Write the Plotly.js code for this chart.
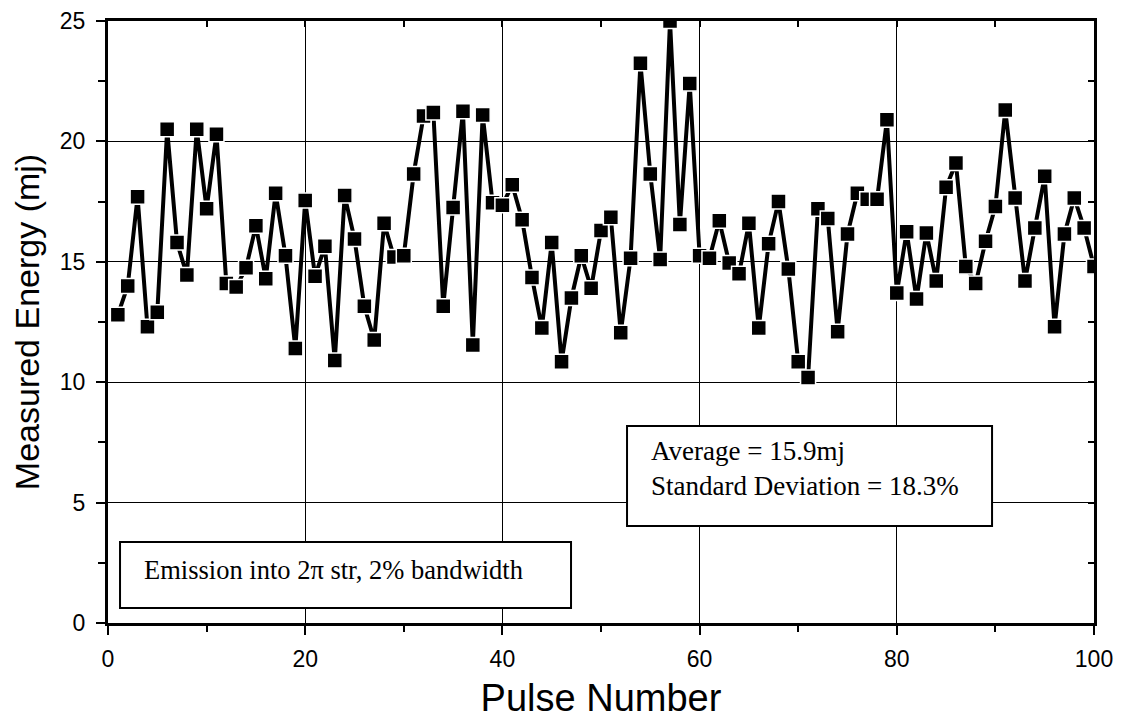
<!DOCTYPE html>
<html>
<head>
<meta charset="utf-8">
<script src="https://cdn.plot.ly/plotly-3.0.1.min.js"></script>
<style>html,body{margin:0;padding:0;background:#fff;}#chart{width:1125px;height:726px;}</style>
</head>
<body>
<div id="chart"></div>
<script>
// Pulse numbers 1..100
const pulseNumber = [1,2,3,4,5,6,7,8,9,10,11,12,13,14,15,16,17,18,19,20,
  21,22,23,24,25,26,27,28,29,30,31,32,33,34,35,36,37,38,39,40,
  41,42,43,44,45,46,47,48,49,50,51,52,53,54,55,56,57,58,59,60,
  61,62,63,64,65,66,67,68,69,70,71,72,73,74,75,76,77,78,79,80,
  81,82,83,84,85,86,87,88,89,90,91,92,93,94,95,96,97,98,99,100];
// Measured energy (mj)
const measuredEnergy = [
  12.8, 14.0, 17.7, 12.3, 12.9, 20.5, 15.8, 14.45, 20.5, 17.2,
  20.3, 14.1, 13.95, 14.75, 16.5, 14.3, 17.85, 15.25, 11.4, 17.55,
  14.4, 15.65, 10.9, 17.75, 15.95, 13.15, 11.75, 16.6, 15.2, 15.25,
  18.65, 21.05, 21.2, 13.15, 17.25, 21.25, 11.55, 21.1, 17.45, 17.35,
  18.2, 16.75, 14.35, 12.25, 15.8, 10.85, 13.5, 15.25, 13.9, 16.3,
  16.85, 12.05, 15.15, 23.25, 18.65, 15.1, 25.0, 16.55, 22.4, 15.25,
  15.15, 16.7, 14.95, 14.5, 16.6, 12.25, 15.75, 17.5, 14.7, 10.85,
  10.2, 17.2, 16.8, 12.1, 16.15, 17.85, 17.6, 17.6, 20.9, 13.7,
  16.25, 13.45, 16.2, 14.2, 18.1, 19.1, 14.8, 14.1, 15.85, 17.3,
  21.3, 17.65, 14.2, 16.4, 18.55, 12.3, 16.15, 17.65, 16.4, 14.8];

const xTitle = "Pulse Number";
const yTitle = "Measured Energy (mj)";
const statsLines = ["Average = 15.9mj", "Standard Deviation = 18.3%"];
const noteText = "Emission into 2\u03c0 str, 2% bandwidth";

const sans = "Liberation Sans, Arial, sans-serif";
const serif = "Liberation Serif, Times New Roman, serif";

const traces = [
  {
    x: pulseNumber, y: measuredEnergy, type: "scatter", mode: "lines+markers",
    line: {color: "#000", width: 4},
    marker: {symbol: "square", size: 15, color: "#000", line: {color: "#fff", width: 1.5}},
    cliponaxis: true, showlegend: false, hoverinfo: "x+y"
  },
  { x: [], y: [], xaxis: "x2", yaxis: "y2", type: "scatter", showlegend: false }
];

const layout = {
  width: 1125, height: 726,
  margin: {l: 108, r: 31, t: 21, b: 103},
  paper_bgcolor: "#fff", plot_bgcolor: "#fff",
  showlegend: false,
  xaxis: {
    range: [0, 100], dtick: 20, tick0: 0,
    showgrid: true, gridcolor: "#000", gridwidth: 1,
    zeroline: false, showline: true, linecolor: "#000", linewidth: 3, mirror: true,
    ticks: "outside", ticklen: 9, tickwidth: 2, tickcolor: "#000",
    minor: {dtick: 10, ticks: "outside", ticklen: 6, tickwidth: 2, tickcolor: "#000", showgrid: false},
    tickfont: {family: sans, size: 23, color: "#000"},
    ticklabelstandoff: 4,
    title: {text: xTitle, font: {family: sans, size: 38, color: "#000"}, standoff: 14}
  },
  yaxis: {
    range: [0, 25], dtick: 5, tick0: 0,
    showgrid: true, gridcolor: "#000", gridwidth: 1,
    zeroline: false, showline: true, linecolor: "#000", linewidth: 3, mirror: true,
    ticks: "outside", ticklen: 9, tickwidth: 2, tickcolor: "#000",
    minor: {dtick: 2.5, ticks: "outside", ticklen: 7, tickwidth: 2, tickcolor: "#000", showgrid: false},
    tickfont: {family: sans, size: 23, color: "#000"},
    ticklabelstandoff: 6,
    title: {text: yTitle, font: {family: sans, size: 34, color: "#000"}, standoff: 10}
  },
  xaxis2: {
    overlaying: "x", side: "top", anchor: "y2", range: [0, 100], dtick: 10, tick0: 0,
    showgrid: false, zeroline: false, showline: false, showticklabels: false,
    ticks: "inside", ticklen: 6, tickwidth: 2, tickcolor: "#000"
  },
  yaxis2: {
    overlaying: "y", side: "right", anchor: "x2", range: [0, 25], dtick: 2.5, tick0: 0,
    showgrid: false, zeroline: false, showline: false, showticklabels: false,
    ticks: "inside", ticklen: 6, tickwidth: 2, tickcolor: "#000"
  },
  shapes: [
    {type: "rect", xref: "paper", yref: "paper", x0: 0.0122, x1: 0.4696, y0: 0.0249, y1: 0.1346,
     line: {color: "#000", width: 2}, fillcolor: "#fff", layer: "above"},
    {type: "rect", xref: "paper", yref: "paper", x0: 0.5264, x1: 0.8966, y0: 0.1611, y1: 0.3272,
     line: {color: "#000", width: 2}, fillcolor: "#fff", layer: "above"}
  ],
  annotations: [
    {xref: "paper", yref: "paper", x: 0.0345, y: 0.088, xanchor: "left", yanchor: "middle",
     text: noteText, showarrow: false, align: "left",
     font: {family: serif, size: 26.5, color: "#000"}},
    {xref: "paper", yref: "paper", x: 0.5487, y: 0.2566, xanchor: "left", yanchor: "middle",
     text: statsLines.join("<br>"), showarrow: false, align: "left",
     font: {family: serif, size: 27, color: "#000"}}
  ]
};

Plotly.newPlot("chart", traces, layout, {displayModeBar: false, staticPlot: true});
</script>
</body>
</html>
